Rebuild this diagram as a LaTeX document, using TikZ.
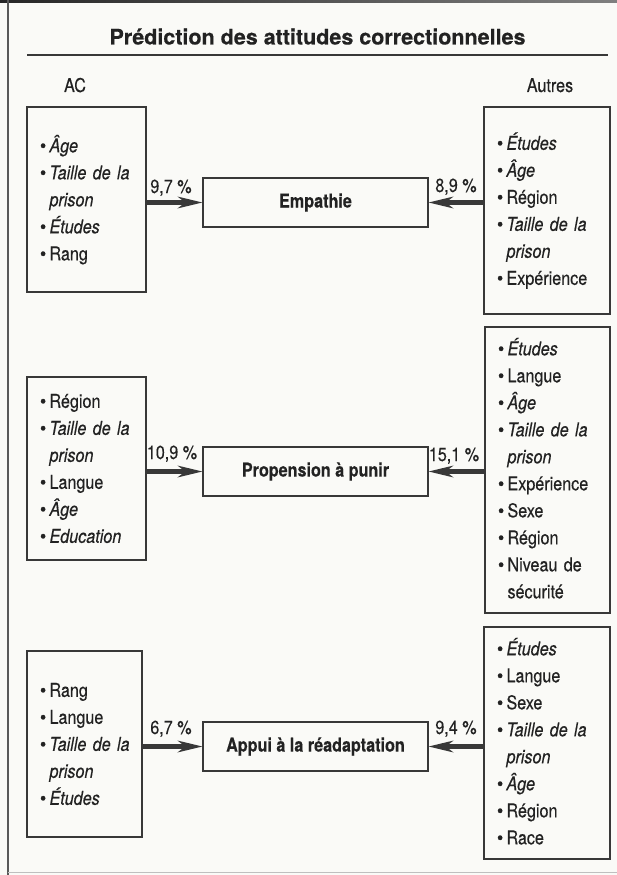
\documentclass[tikz,border=0pt]{standalone}
\usepackage{fontspec}
\usepackage{graphicx}
\setmainfont{TeX Gyre Heros}[FakeStretch=0.85,FakeBold=0.3]
\newfontfamily\titlefont{TeX Gyre Heros}[FakeBold=0.3]
\usetikzlibrary{arrows.meta}
\definecolor{ink}{HTML}{222222}
\definecolor{edge}{HTML}{383838}
\definecolor{paper}{HTML}{FAFAF7}
\newcommand\ls{\rule[-6.7pt]{0pt}{27pt}}
\newcommand\dotb{\makebox[9pt][l]{\hspace*{-0.5pt}\scalebox{1.1}[1]{\textbullet}}}
\newcommand\bi[1]{\ls\mbox{\dotb#1}}
\newcommand\cl[1]{\ls\mbox{\hspace*{9pt}#1}}
\hbadness=10000 \hfuzz=50pt
\tikzset{
  list/.style={draw=edge, line width=1.3pt, inner xsep=13.5pt, inner ysep=0pt, align=left, anchor=center, font=\fontsize{19}{27}\selectfont, text=ink},
  target/.style={draw=edge, line width=1.3pt, inner sep=0pt, minimum width=225pt, minimum height=49pt, font=\bfseries\fontsize{19}{22}\selectfont, text=ink},
  pct/.style={anchor=base, font=\fontsize{19}{22}\selectfont, text=ink, inner sep=0pt},
  flow/.style={draw=edge, line width=4.5pt, -{Stealth[length=25pt,width=12pt,inset=8pt,line width=0pt]}},
}
\begin{document}
\begin{tikzpicture}[x=1pt,y=-1pt]
\useasboundingbox (0,0) rectangle (617,875);
\fill[paper] (0,0) rectangle (617,875);
\shade[left color=black!85, right color=black!50] (0,0) rectangle (617,3);
\draw[line width=2pt, black!65] (7.5,0) -- (7.5,875);
\draw[line width=0.8pt, black!25] (7.5,872) -- (617,872);

\node[anchor=base, inner sep=0pt, text=ink, font=\titlefont\bfseries\fontsize{21.5}{26}\selectfont] (title) at (317.5,44.5) {Prédiction des attitudes correctionnelles};
\draw[line width=2pt, edge] (27,55) -- (608,55);
\node[pct] (ac) at (75,92) {AC};
\node[pct] (autres) at (550,92) {Autres};

% row 1
\node[list, minimum width=119pt, text width=92pt, minimum height=185pt] (l1) at (86.5,199.5)
 {\bi{\textit{Âge}}\\\bi{\textit{Taille de la}}\\\cl{\textit{prison}}\\\bi{\textit{Études}}\\\bi{Rang}};
\node[list, minimum width=126pt, text width=99pt, minimum height=207pt] (r1) at (547,210.5)
 {\bi{\textit{Études}}\\\bi{\textit{Âge}}\\\bi{Région}\\\bi{\textit{Taille de la}}\\\cl{\textit{prison}}\\\bi{Expérience}};
\node[target] (e) at (315.5,202.5) {Empathie};
\draw[flow] (l1.east |- e.west) -- (e.west);
\draw[flow] (r1.west |- e.east) -- (e.east);
\node[pct] (p1) at (171,193) {9,7 \%};
\node[pct] (q1) at (456,192) {8,9 \%};

% row 2
\node[list, minimum width=119pt, text width=92pt, minimum height=183pt] (l2) at (86.5,468.5)
 {\bi{Région}\\\bi{\textit{Taille de la}}\\\cl{\textit{prison}}\\\bi{Langue}\\\bi{\textit{Âge}}\\\bi{\textit{Education}}};
\node[list, minimum width=125pt, text width=98pt, minimum height=286pt] (r2) at (547.5,470)
 {\bi{\textit{Études}}\\\bi{Langue}\\\bi{\textit{Âge}}\\\bi{\textit{Taille de la}}\\\cl{\textit{prison}}\\\bi{Expérience}\\\bi{Sexe}\\\bi{Région}\\\bi{Niveau de}\\\cl{sécurité}};
\node[target] (p) at (315.5,471.5) {Propension à punir};
\draw[flow] (l2.east |- p.west) -- (p.west);
\draw[flow] (r2.west |- p.east) -- (p.east);
\node[pct] (p2) at (172,459) {10,9 \%};
\node[pct] (q2) at (454,461) {15,1 \%};

% row 3
\node[list, minimum width=115pt, text width=88pt, minimum height=186pt] (l3) at (84.5,744)
 {\bi{Rang}\\\bi{Langue}\\\bi{\textit{Taille de la}}\\\cl{\textit{prison}}\\\bi{\textit{Études}}};
\node[list, minimum width=126pt, text width=99pt, minimum height=232pt] (r3) at (547,743)
 {\bi{\textit{Études}}\\\bi{Langue}\\\bi{Sexe}\\\bi{\textit{Taille de la}}\\\cl{\textit{prison}}\\\bi{\textit{Âge}}\\\bi{Région}\\\bi{Race}};
\node[target] (a) at (315.5,746.5) {Appui à la réadaptation};
\draw[flow] (l3.east |- a.west) -- (a.west);
\draw[flow] (r3.west |- a.east) -- (a.east);
\node[pct] (p3) at (171,734) {6,7 \%};
\node[pct] (q3) at (456,734) {9,4 \%};
\end{tikzpicture}
\end{document}
